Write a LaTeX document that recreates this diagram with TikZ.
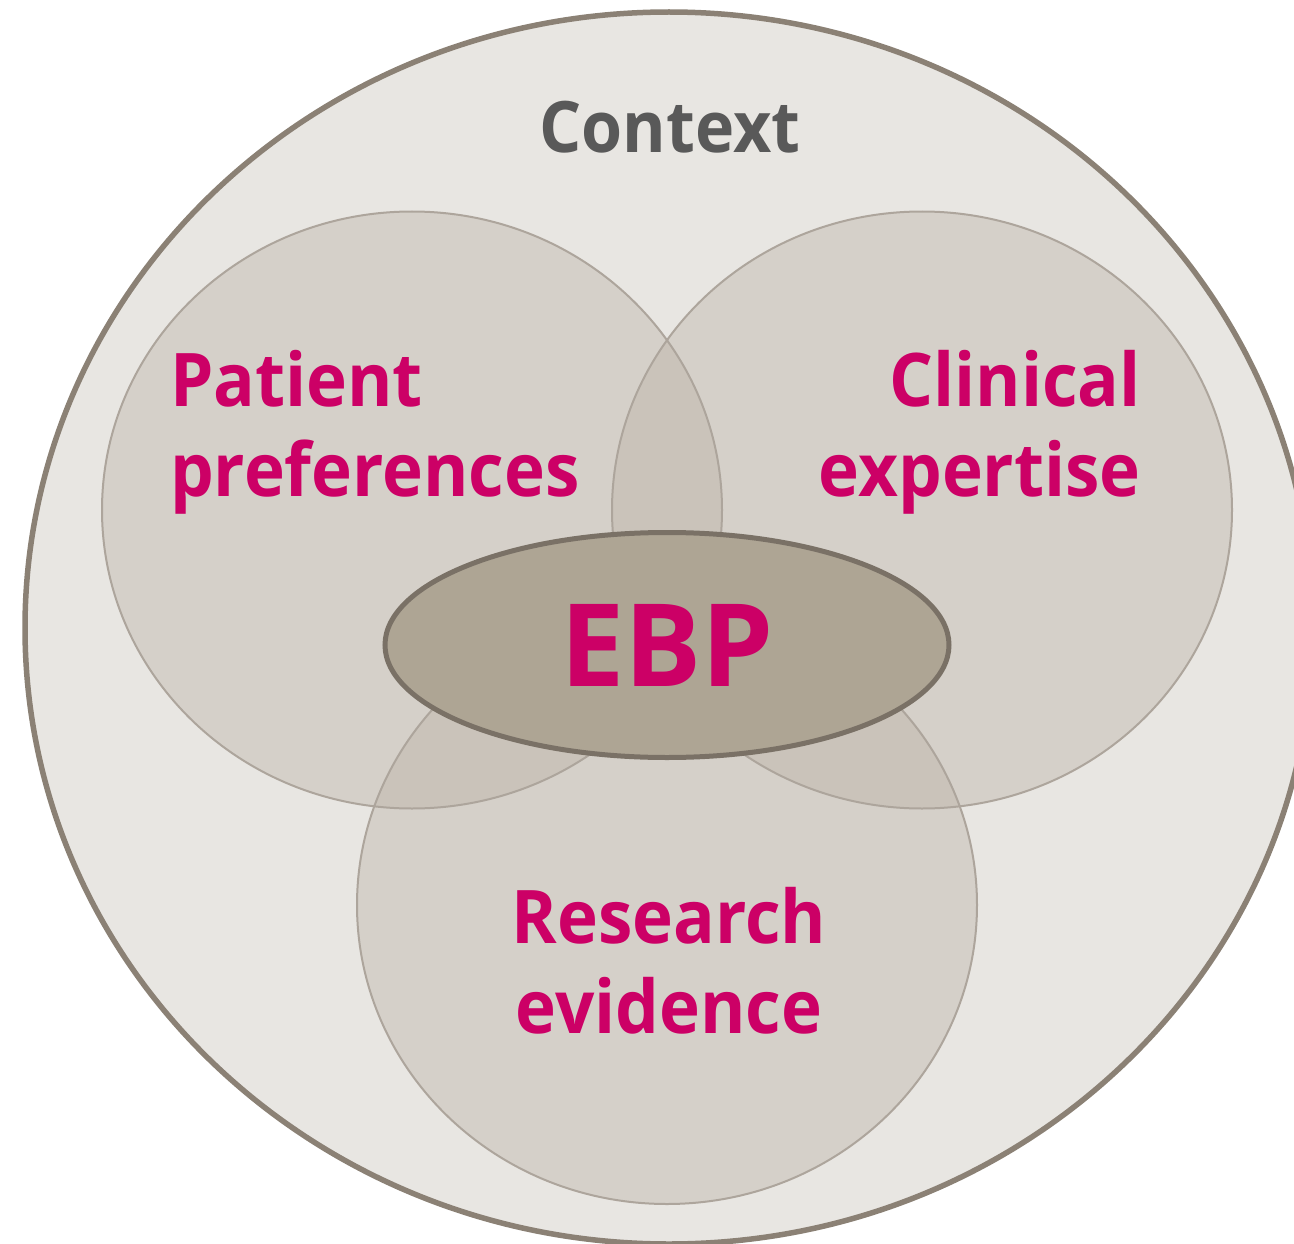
\documentclass[tikz,border=0pt]{standalone}
\usepackage{fontspec}
\setmainfont{Open Sans}
\newfontfamily\narrowfont{Open Sans}[FakeStretch=0.935]
\usetikzlibrary{shapes.geometric}
\definecolor{bigfill}{HTML}{E8E6E2}
\definecolor{bigdraw}{HTML}{8B8175}
\definecolor{cfill}{HTML}{BAB0A4}
\definecolor{cdraw}{HTML}{ADA59C}
\definecolor{ebpfill}{HTML}{AEA594}
\definecolor{ebpdraw}{HTML}{7A7166}
\definecolor{mag}{HTML}{CC0066}
\definecolor{ctxgray}{HTML}{595959}
\tikzset{
  oval/.style={ellipse, inner sep=0pt, outer sep=0pt},
  lbl/.style={font=\narrowfont\bfseries\fontsize{74}{90}\selectfont, text=mag, inner sep=0pt},
}
\begin{document}
\begin{tikzpicture}[x=1pt,y=-1pt]
\useasboundingbox (0,0) rectangle (1294,1244);
\clip (0,0) rectangle (1294,1244);
\node[oval, fill=bigfill, draw=bigdraw, line width=5.5pt, minimum width=1288pt, minimum height=1232pt] (bigC) at (669,628) {};
\node[oval, fill=cfill, fill opacity=0.4, minimum width=620pt, minimum height=597pt] (pat) at (412,510) {};
\node[oval, fill=cfill, fill opacity=0.4, minimum width=620pt, minimum height=597pt] (cli) at (922,510) {};
\node[oval, fill=cfill, fill opacity=0.4, minimum width=620pt, minimum height=598pt] (res) at (667,905) {};
\draw[cdraw, line width=2pt] (pat.center) ellipse [x radius=310pt, y radius=298.5pt];
\draw[cdraw, line width=2pt] (cli.center) ellipse [x radius=310pt, y radius=298.5pt];
\draw[cdraw, line width=2pt] (res.center) ellipse [x radius=310pt, y radius=299pt];
\node[oval, fill=ebpfill, draw=ebpdraw, line width=5pt, minimum width=564pt, minimum height=225pt] (ebp) at (667,645) {};
\node[font=\bfseries\fontsize{115}{120}\selectfont, text=mag, inner sep=0pt] (ebpt) at (ebp.center) {EBP};
\node[font=\narrowfont\bfseries\fontsize{71}{80}\selectfont, text=ctxgray, inner sep=0pt, anchor=base] (ctx) at (670,153) {Context};
\node[lbl, align=left, anchor=north west] (patt) at (170,350) {Patient\\preferences};
\node[lbl, align=right, anchor=north east] (clit) at (1141,350) {Clinical\\expertise};
\node[lbl, align=center, anchor=north] (rest) at (669,887) {Research\\evidence};
\end{tikzpicture}
\end{document}
